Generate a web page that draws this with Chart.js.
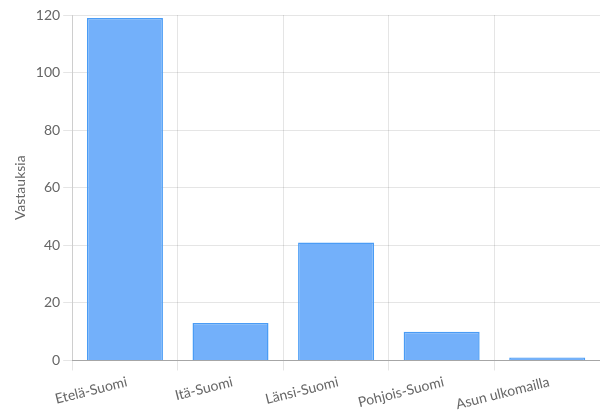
<!DOCTYPE html>
<html>
<head>
<meta charset="utf-8">
<style>
  html, body { margin: 0; padding: 0; background: #fff; }
</style>
<script src="https://cdn.jsdelivr.net/npm/chart.js@4"></script>
</head>
<body>
<canvas id="kaavio" width="600" height="416"></canvas>
<script>
const alueet = ["Etelä-Suomi", "Itä-Suomi", "Länsi-Suomi", "Pohjois-Suomi", "Asun ulkomailla"];
const vastaukset = [119, 13, 41, 10, 1];

const kaavio = document.getElementById("kaavio");

new Chart(kaavio, {
    type: "bar",
    data: {
        labels: alueet,
        datasets: [
            {
                label: "Vastauksia",
                data: vastaukset,
                backgroundColor: "rgba(115, 176, 250, 1)",
                borderColor: "#4a9cf5",
                borderWidth: 1.5
            }
        ]
    },
    options: {
        responsive: false,
        animation: false,
        layout: {
            padding: { top: 15, right: 0, left: 8 }
        },
        scales: {
            x: {
                grid: {
                    color: "rgba(0,0,0,0.1)",
                    offset: true,
                    tickLength: 10
                },
                border: { color: "rgba(0,0,0,0.28)" },
                ticks: {
                    color: "#666",
                    font: { family: "Lato", size: 14 },
                    minRotation: 14,
                    maxRotation: 14,
                    labelOffset: 2
                }
            },
            y: {
                beginAtZero: true,
                min: 0,
                max: 120,
                grid: {
                    color: "rgba(0,0,0,0.1)",
                    tickLength: 9
                },
                border: { color: "rgba(0,0,0,0.1)" },
                ticks: {
                    stepSize: 20,
                    padding: 3,
                    color: "#666",
                    font: { family: "Lato", size: 14 }
                },
                title: {
                    display: true,
                    text: "Vastauksia",
                    color: "#666",
                    font: { family: "Lato", size: 14 }
                }
            }
        },
        plugins: {
            legend: { display: false },
            tooltip: { enabled: false }
        }
    }
});
</script>
</body>
</html>
